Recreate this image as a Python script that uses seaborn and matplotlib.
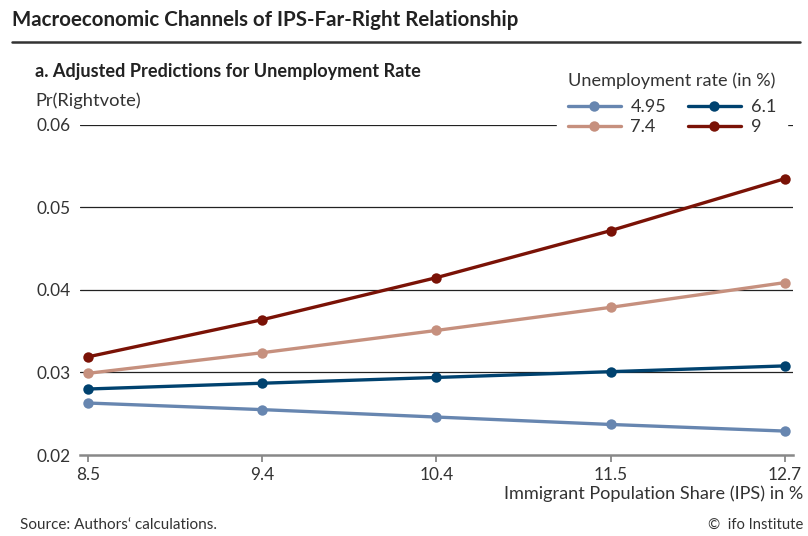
import matplotlib
matplotlib.use("Agg")
import matplotlib.pyplot as plt
import seaborn as sns
import pandas as pd

ips = ["8.5", "9.4", "10.4", "11.5", "12.7"]
rates = ["4.95", "6.1", "7.4", "9"]
pred_495 = [0.0263, 0.0255, 0.0246, 0.0237, 0.0229]
pred_61 = [0.0280, 0.0287, 0.0294, 0.0301, 0.0308]
pred_74 = [0.0299, 0.0324, 0.0351, 0.0379, 0.0409]
pred_9 = [0.0319, 0.0364, 0.0415, 0.0472, 0.0535]
yticks = [0.02, 0.03, 0.04, 0.05, 0.06]
colors = ["#6786b0", "#00426f", "#c6907e", "#7a1206"]

rows = []
for r, vals in zip(rates, [pred_495, pred_61, pred_74, pred_9]):
    for x, v in zip(ips, vals):
        rows.append({"ips": x, "rate": r, "pred": v})
df = pd.DataFrame(rows)

sns.set_theme(style="white")
plt.rcParams["font.family"] = ["Lato", "DejaVu Sans"]
txt = "#333333"

fig = plt.figure(figsize=(8.08, 5.36), dpi=100)
renderer = fig.canvas.get_renderer()


def fit_size(s, target_px, weight="normal"):
    t = fig.text(0, 0, s, fontsize=20, fontweight=weight)
    w = t.get_window_extent(renderer).width
    t.remove()
    return 20 * target_px / w


def put(x, y, s, target_px, ha="left", weight="normal", color=txt):
    fs = fit_size(s, target_px, weight)
    fig.text(x / 808, 1 - y / 536, s, fontsize=fs, fontweight=weight,
             color=color, va="center", ha=ha)


tick_fs = fit_size("0.06", 34)
leg_fs = fit_size("Unemployment rate (in %)", 208)

ax = fig.add_axes([80 / 808, 1 - 455 / 536, (793 - 80) / 808, (455 - 125) / 536])

for yv in yticks[1:]:
    ax.axhline(yv, color="#222222", lw=0.9, zorder=1)

sns.lineplot(data=df, x="ips", y="pred", hue="rate", hue_order=rates,
             palette=colors, marker="o", markersize=7.5, markeredgewidth=0,
             linewidth=2.4, sort=False, ax=ax, zorder=3)

ax.set_xlim(-0.046, 4.046)
ax.set_ylim(0.02, 0.06)
ax.set_yticks(yticks)
ax.set_yticklabels([f"{v:.2f}" for v in yticks])
ax.set_xlabel("")
ax.set_ylabel("")
for s in ["top", "right", "left"]:
    ax.spines[s].set_visible(False)
ax.spines["bottom"].set_color("#888888")
ax.spines["bottom"].set_linewidth(1.8)
ax.tick_params(axis="y", length=0, pad=7, labelsize=tick_fs, labelcolor=txt)
ax.tick_params(axis="x", length=5, width=1.3, color="#888888", pad=4,
               labelsize=tick_fs, labelcolor=txt, direction="out", bottom=True)
ax.grid(False)

h, l = ax.get_legend_handles_labels()
order = [0, 2, 1, 3]
leg = ax.legend([h[i] for i in order], [l[i] for i in order], ncol=2,
                title="Unemployment rate (in %)", loc="upper left",
                bbox_to_anchor=(557 / 808, 1 - 62 / 536),
                bbox_transform=fig.transFigure,
                frameon=True, facecolor="white", edgecolor="white", framealpha=1,
                fontsize=leg_fs, title_fontsize=leg_fs, handlelength=2.9,
                columnspacing=1.2, labelspacing=0.22, borderpad=0.6,
                handletextpad=0.55, borderaxespad=0)
leg.get_title().set_color(txt)
leg._legend_box.align = "left"
leg._legend_box.sep = 7
for t in leg.get_texts():
    t.set_color(txt)
leg.set_zorder(5)

put(12, 20, "Macroeconomic Channels of IPS-Far-Right Relationship", 508,
    weight="bold", color="#222222")
fig.add_artist(plt.Line2D([12 / 808, 800 / 808], [1 - 42 / 536, 1 - 42 / 536],
                          color="#333333", lw=1.8, transform=fig.transFigure))
put(35, 72, "a. Adjusted Predictions for Unemployment Rate", 385,
    weight="bold", color="#222222")
put(35, 101, "Pr(Rightvote)", 106)
put(803, 494, "Immigrant Population Share (IPS) in %", 300, ha="right")
put(20, 525, "Source: Authors\u2018 calculations.", 198)
put(803, 525, "\u00a9  ifo Institute", 95, ha="right")

fig.savefig("out.png", dpi=100)
